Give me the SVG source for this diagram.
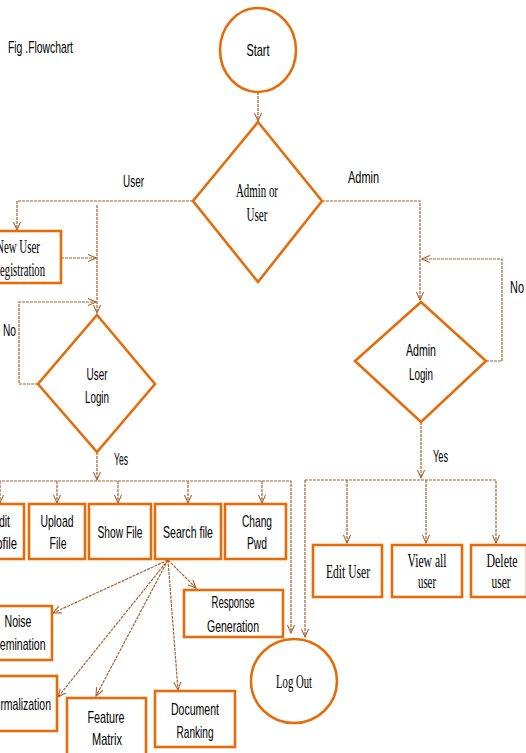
<svg xmlns="http://www.w3.org/2000/svg" width="526" height="753" viewBox="0 0 526 753">
<defs>
<marker id="arr" viewBox="0 0 10 10" refX="9" refY="5" markerWidth="9" markerHeight="9" markerUnits="userSpaceOnUse" orient="auto">
<path d="M0,1 L9,5 L0,9" fill="none" stroke="#A8602E" stroke-width="1.2"/>
</marker>
<style>
.sh{fill:#fff;stroke:#E46C0A;stroke-width:2.6}
.c{fill:none;stroke:#A8602E;stroke-width:1.2;stroke-dasharray:3 1}
.t{font-family:"Liberation Sans",Arial,sans-serif;font-size:17px;fill:#000;text-anchor:middle}
.s{font-family:"Liberation Serif",serif;font-size:18px;fill:#000;text-anchor:middle}
.l{font-family:"Liberation Sans",Arial,sans-serif;font-size:17px;fill:#000}
</style>
</defs>
<rect width="526" height="753" fill="#fff"/>
<text class="l" x="8" y="53" font-size="13" textLength="65" lengthAdjust="spacingAndGlyphs">Fig .Flowchart</text>

<g id="connectors">
<path class="c" d="M258,92 V121" marker-end="url(#arr)"/>
<path class="c" d="M193,201 H17 V230" marker-end="url(#arr)"/>
<path class="c" d="M97,205 V313" marker-end="url(#arr)"/>
<path class="c" d="M61,258 H96" marker-end="url(#arr)"/>
<path class="c" d="M38,384 H19 V302 H96" marker-end="url(#arr)"/>
<path class="c" d="M97,452 V480" marker-end="url(#arr)"/>
<path class="c" d="M-10,481 H291 V633" marker-end="url(#arr)"/>
<path class="c" d="M0,481 V503" marker-end="url(#arr)"/>
<path class="c" d="M57,481 V503" marker-end="url(#arr)"/>
<path class="c" d="M118,481 V503" marker-end="url(#arr)"/>
<path class="c" d="M188,481 V503" marker-end="url(#arr)"/>
<path class="c" d="M262,481 V503" marker-end="url(#arr)"/>
<path class="c" d="M168,560 L53,613" marker-end="url(#arr)"/>
<path class="c" d="M168,560 L58,697" marker-end="url(#arr)"/>
<path class="c" d="M168,560 L96,696" marker-end="url(#arr)"/>
<path class="c" d="M168,560 L178,690" marker-end="url(#arr)"/>
<path class="c" d="M168,560 L196,588" marker-end="url(#arr)"/>
<path class="c" d="M322,201 H420 V300" marker-end="url(#arr)"/>
<path class="c" d="M486,361 H502 V259 H422" marker-end="url(#arr)"/>
<path class="c" d="M421,422 V478" marker-end="url(#arr)"/>
<path class="c" d="M305,480 H496 V543" marker-end="url(#arr)"/>
<path class="c" d="M305,480 V637" marker-end="url(#arr)"/>
<path class="c" d="M347,480 V543" marker-end="url(#arr)"/>
<path class="c" d="M426,480 V543" marker-end="url(#arr)"/>
</g>

<g id="start"><ellipse class="sh" cx="258" cy="50" rx="38" ry="42"/><text class="t" x="258" y="56" textLength="23" lengthAdjust="spacingAndGlyphs">Start</text></g>
<g id="admin-or-user"><polygon class="sh" points="258,122 322,201 258,282 193,201"/><text class="s" x="257" y="197" textLength="42" lengthAdjust="spacingAndGlyphs">Admin or</text><text class="s" x="257" y="221" textLength="21" lengthAdjust="spacingAndGlyphs">User</text></g>
<text class="l" x="123" y="187" textLength="21" lengthAdjust="spacingAndGlyphs">User</text>
<text class="l" x="348" y="183" textLength="31" lengthAdjust="spacingAndGlyphs">Admin</text>

<g id="new-user"><rect class="sh" x="-27" y="231" width="88" height="52"/><text class="s" x="18" y="253" textLength="44" lengthAdjust="spacingAndGlyphs">New User</text><text class="s" x="19" y="276" textLength="52" lengthAdjust="spacingAndGlyphs">Registration</text></g>

<g id="user-login"><polygon class="sh" points="97,315 155,384 97,452 38,384"/><text class="t" x="97" y="380" textLength="21" lengthAdjust="spacingAndGlyphs">User</text><text class="t" x="97" y="403" textLength="24" lengthAdjust="spacingAndGlyphs">Login</text></g>
<text class="l" x="3" y="336" textLength="13" lengthAdjust="spacingAndGlyphs">No</text>
<text class="l" x="114" y="465" textLength="14" lengthAdjust="spacingAndGlyphs">Yes</text>

<g id="edit-profile"><rect class="sh" x="-30" y="504" width="54" height="55"/><text class="t" x="1" y="527" textLength="18" lengthAdjust="spacingAndGlyphs">Edit</text><text class="t" x="1" y="549" textLength="32" lengthAdjust="spacingAndGlyphs">Profile</text></g>
<g id="upload-file"><rect class="sh" x="29" y="504" width="56" height="55"/><text class="t" x="57" y="527" textLength="33" lengthAdjust="spacingAndGlyphs">Upload</text><text class="t" x="58" y="549" textLength="17" lengthAdjust="spacingAndGlyphs">File</text></g>
<g id="show-file"><rect class="sh" x="89" y="504" width="62" height="55"/><text class="t" x="120" y="538" textLength="45" lengthAdjust="spacingAndGlyphs">Show File</text></g>
<g id="search-file"><rect class="sh" x="155" y="504" width="66" height="55"/><text class="t" x="188" y="538" textLength="50" lengthAdjust="spacingAndGlyphs">Search file</text></g>
<g id="chang-pwd"><rect class="sh" x="225" y="504" width="61" height="55"/><text class="t" x="257" y="527" textLength="30" lengthAdjust="spacingAndGlyphs">Chang</text><text class="t" x="257" y="549" textLength="20" lengthAdjust="spacingAndGlyphs">Pwd</text></g>

<g id="response"><rect class="sh" x="184" y="590" width="99" height="47"/><text class="t" x="233" y="608" textLength="43" lengthAdjust="spacingAndGlyphs">Response</text><text class="t" x="233" y="632" textLength="52" lengthAdjust="spacingAndGlyphs">Generation</text></g>
<g id="noise"><rect class="sh" x="-20" y="606" width="72" height="54"/><text class="t" x="18" y="627" textLength="27" lengthAdjust="spacingAndGlyphs">Noise</text><text class="t" x="18" y="650" textLength="55" lengthAdjust="spacingAndGlyphs">Elemination</text></g>
<g id="normalization"><rect class="sh" x="-25" y="676" width="82" height="55"/><text class="t" x="19" y="710" textLength="64" lengthAdjust="spacingAndGlyphs">Normalization</text></g>
<g id="feature"><rect class="sh" x="67" y="698" width="79" height="60"/><text class="t" x="106" y="723" textLength="37" lengthAdjust="spacingAndGlyphs">Feature</text><text class="t" x="107" y="745" textLength="30" lengthAdjust="spacingAndGlyphs">Matrix</text></g>
<g id="document"><rect class="sh" x="155" y="691" width="80" height="56"/><text class="t" x="195" y="715" textLength="48" lengthAdjust="spacingAndGlyphs">Document</text><text class="t" x="195" y="738" textLength="37" lengthAdjust="spacingAndGlyphs">Ranking</text></g>

<g id="log-out"><ellipse class="sh" cx="294" cy="681" rx="43" ry="42"/><text class="s" x="294" y="688" textLength="36" lengthAdjust="spacingAndGlyphs">Log Out</text></g>

<g id="admin-login"><polygon class="sh" points="421,302 486,361 421,422 355,361"/><text class="t" x="421" y="356" textLength="30" lengthAdjust="spacingAndGlyphs">Admin</text><text class="t" x="421" y="380" textLength="24" lengthAdjust="spacingAndGlyphs">Login</text></g>
<text class="l" x="510" y="293" textLength="14" lengthAdjust="spacingAndGlyphs">No</text>
<text class="l" x="433" y="462" textLength="15" lengthAdjust="spacingAndGlyphs">Yes</text>

<g id="edit-user"><rect class="sh" x="313" y="545" width="69" height="52"/><text class="s" x="348" y="578" textLength="44" lengthAdjust="spacingAndGlyphs">Edit User</text></g>
<g id="view-all"><rect class="sh" x="392" y="545" width="70" height="52"/><text class="s" x="427" y="567" textLength="39" lengthAdjust="spacingAndGlyphs">View all</text><text class="s" x="427" y="588" textLength="18" lengthAdjust="spacingAndGlyphs">user</text></g>
<g id="delete-user"><rect class="sh" x="471" y="545" width="56" height="52"/><text class="s" x="502" y="567" textLength="31" lengthAdjust="spacingAndGlyphs">Delete</text><text class="s" x="501" y="588" textLength="19" lengthAdjust="spacingAndGlyphs">user</text></g>
</svg>
